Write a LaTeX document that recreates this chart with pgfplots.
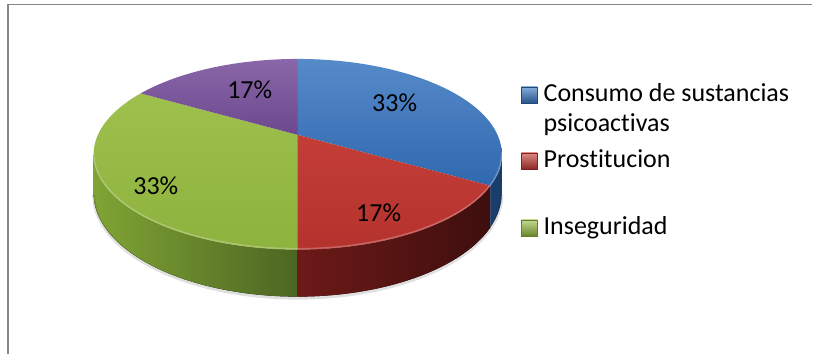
\documentclass[border=0pt]{standalone}
\usepackage{pgfplots}
\pgfplotsset{compat=1.18}
\usepackage{pgfplotstable}
\usepgfplotslibrary{fillbetween}
\usepackage{fontspec}
\setmainfont{Carlito}[Ligatures={NoCommon,NoRare}]

% pie data (percent of answers), clockwise from 12 o'clock
\pgfplotstableread{
idx value
0 33.33
1 16.67
2 33.33
3 16.67
}\piedata

\definecolor{bluetop}{RGB}{56,118,192}
\definecolor{bluetopB}{RGB}{48,104,175}
\definecolor{redtop}{RGB}{196,62,56}
\definecolor{redtopB}{RGB}{180,50,45}
\definecolor{greentop}{RGB}{158,192,76}
\definecolor{greentopB}{RGB}{142,178,62}
\definecolor{purptop}{RGB}{124,86,158}
\definecolor{purptopB}{RGB}{108,72,142}
\definecolor{framegray}{RGB}{135,135,135}

\begin{document}
\begin{tikzpicture}
\pgfplotstablegetelem{0}{value}\of\piedata \let\va\pgfplotsretval
\pgfplotstablegetelem{1}{value}\of\piedata \let\vb\pgfplotsretval
\pgfplotstablegetelem{2}{value}\of\piedata \let\vc\pgfplotsretval
\pgfplotstablegetelem{3}{value}\of\piedata \let\vd\pgfplotsretval
\pgfmathsetmacro{\tot}{\va+\vb+\vc+\vd}
\pgfmathsetmacro{\aA}{90}
\pgfmathsetmacro{\aB}{\aA-360*\va/\tot}
\pgfmathsetmacro{\aC}{\aB-360*\vb/\tot}
\pgfmathsetmacro{\aD}{\aC-360*\vc/\tot}
\pgfmathsetmacro{\aE}{\aD-360*\vd/\tot}
\pgfmathsetmacro{\tl}{-180+asin(0.204)}
\pgfmathsetmacro{\tr}{-asin(0.204)}
\begin{axis}[
  scale only axis, width=813pt, height=354pt,
  xmin=0, xmax=813, ymin=0, ymax=354, y dir=reverse,
  hide axis, clip=false,
  declare function={
    px(\t)=298+200*cos(\t)/(1+0.204*sin(\t));
    py(\t)=135-91.5*sin(\t)/(1+0.204*sin(\t));
    pb(\t)=py(\t)+37.4/(1+0.204*sin(\t));
  },
]
\path (axis cs:0,0) rectangle (axis cs:813,354);
% frame
\draw[framegray, line width=1.6pt] (axis cs:8,354) -- (axis cs:8,4.5) -- (axis cs:813,4.5);

% soft shadow
\addplot[black, opacity=0.12, line width=3pt, domain=\tl:\tr, samples=80, forget plot] ({px(x)},{pb(x)+1.5});

% walls
\addplot[name path=gt, draw=none, domain=\tl:\aC, samples=60, forget plot] ({px(x)},{py(x)});
\addplot[name path=gb, draw=none, domain=\tl:\aC, samples=60, forget plot] ({px(x)},{pb(x)});
\addplot[left color={rgb,255:red,128;green,164;blue,52}, right color={rgb,255:red,76;green,102;blue,34}, draw=none, forget plot] fill between[of=gt and gb];

\addplot[name path=rt, draw=none, domain=\aC:\aB, samples=40, forget plot] ({px(x)},{py(x)});
\addplot[name path=rb, draw=none, domain=\aC:\aB, samples=40, forget plot] ({px(x)},{pb(x)});
\addplot[left color={rgb,255:red,108;green,26;blue,24}, right color={rgb,255:red,62;green,14;blue,14}, draw=none, forget plot] fill between[of=rt and rb];

\addplot[name path=bt, draw=none, domain=\aB:\tr, samples=20, forget plot] ({px(x)},{py(x)});
\addplot[name path=bb, draw=none, domain=\aB:\tr, samples=20, forget plot] ({px(x)},{pb(x)});
\addplot[fill={rgb,255:red,26;green,62;blue,108}, draw=none, forget plot] fill between[of=bt and bb];

% tops
\addplot[top color=bluetop!85!white, bottom color=bluetopB, draw=none, domain=\aB:\aA, samples=80, forget plot] ({px(x)},{py(x)}) -- (axis cs:298,135) -- cycle;
\addplot[top color=redtop, bottom color=redtopB, draw=none, domain=\aC:\aB, samples=50, forget plot] ({px(x)},{py(x)}) -- (axis cs:298,135) -- cycle;
\addplot[top color=greentop, bottom color=greentopB, draw=none, domain=\aD:\aC, samples=80, forget plot] ({px(x)},{py(x)}) -- (axis cs:298,135) -- cycle;
\addplot[top color=purptop!90!white, bottom color=purptopB, draw=none, domain=\aE:\aD, samples=50, forget plot] ({px(x)},{py(x)}) -- (axis cs:298,135) -- cycle;

% rim highlight
\addplot[white, opacity=0.25, line width=1.5pt, domain=\tl:\tr, samples=80, forget plot] ({px(x)},{py(x)-1});

% data labels
\begin{scope}[font=\fontsize{26}{31}\selectfont]
\node[anchor=base] at (axis cs:395,112) {33\%};
\node[anchor=base] at (axis cs:379,222) {17\%};
\node[anchor=base] at (axis cs:156,195) {33\%};
\node[anchor=base] at (axis cs:250,99) {17\%};

% legend
\shade[top color=bluetop!60!white, bottom color=bluetopB!80!black, draw=bluetopB!70!black, line width=0.4pt] (axis cs:522,87) rectangle (axis cs:538,103);
\shade[top color=redtop!60!white, bottom color=redtopB!80!black, draw=redtopB!70!black, line width=0.4pt] (axis cs:522,153) rectangle (axis cs:538,169);
\shade[top color=greentop!60!white, bottom color=greentopB!75!black, draw=greentopB!70!black, line width=0.4pt] (axis cs:522,220) rectangle (axis cs:538,236);
\node[anchor=base west, inner sep=0pt] at (axis cs:544,102) {Consumo de sustancias};
\node[anchor=base west, inner sep=0pt] at (axis cs:544,132) {psicoactivas};
\node[anchor=base west, inner sep=0pt] at (axis cs:544,168) {Prostitucion};
\node[anchor=base west, inner sep=0pt] at (axis cs:544,235) {Inseguridad};
\end{scope}
\end{axis}
\end{tikzpicture}
\end{document}
